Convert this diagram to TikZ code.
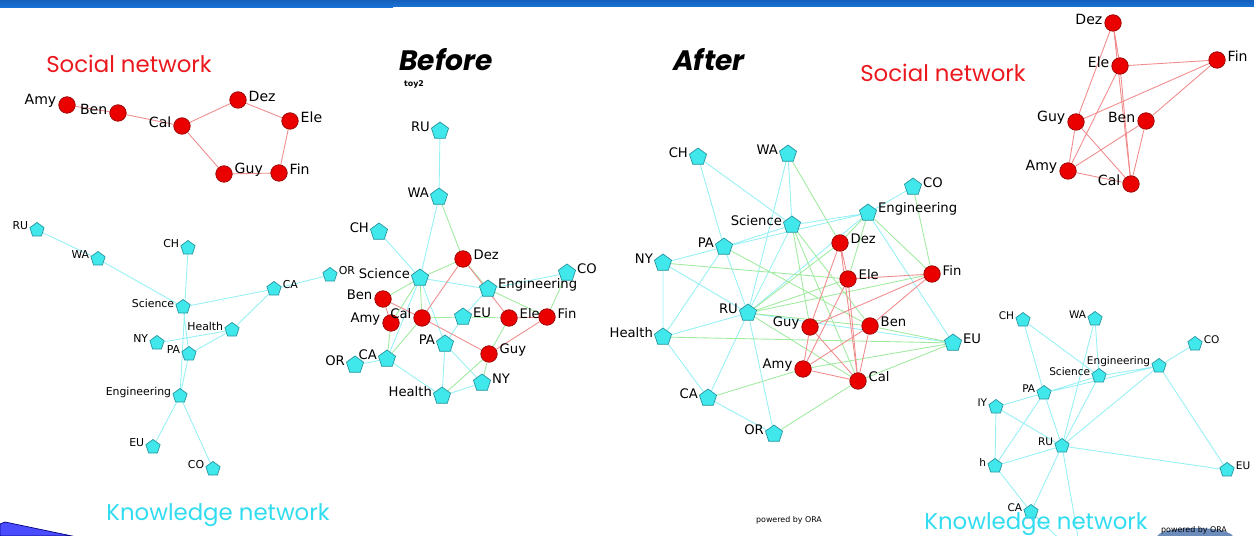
\documentclass[tikz,border=0pt]{standalone}
\usepackage{fontspec}
\setmainfont{DejaVu Sans}
\newfontfamily\headfont{Poppins}
\usetikzlibrary{shapes.geometric,backgrounds}
\definecolor{socred}{RGB}{235,0,0}
\definecolor{socrim}{RGB}{150,0,0}
\definecolor{knfill}{RGB}{64,232,235}
\definecolor{knrim}{RGB}{40,150,160}
\definecolor{socline}{RGB}{240,140,140}
\definecolor{knline}{RGB}{150,240,245}
\definecolor{mixline}{RGB}{160,235,160}
\definecolor{headred}{RGB}{235,25,30}
\definecolor{headcyan}{RGB}{50,220,240}
\definecolor{barblue}{RGB}{25,115,215}
\definecolor{bardark}{RGB}{20,95,190}
\definecolor{steel}{RGB}{70,110,170}
\tikzset{
	soc/.style={circle, draw=socrim, fill=socred, inner sep=0pt, minimum size=0.33cm},
	kn/.style={regular polygon, regular polygon sides=5, draw=knrim, fill=knfill, inner sep=0pt, minimum size=0.36cm},
	kns/.style={kn, minimum size=0.3cm},
	lbl/.style={font=\fontsize{7.5}{8}\selectfont},
	tagl/.style={label={[lbl,inner sep=1pt,yshift=0.08cm]left:#1}},
	tagr/.style={label={[lbl,inner sep=1pt,yshift=0.08cm]right:#1}},
	sline/.style={socline, line width=0.5pt},
	kline/.style={knline, line width=0.5pt},
	mline/.style={mixline, line width=0.5pt},
	headline/.style={font=\headfont\fontsize{13}{14}\selectfont, inner sep=0pt},
	bighead/.style={font=\headfont\bfseries\itshape\fontsize{16}{16}\selectfont, inner sep=0pt},
}

\begin{document}
\begin{tikzpicture}[x=0.02cm, y=-0.02cm]
			%%%%% FRAME %%%%%
			\useasboundingbox (0, 0) rectangle (1254, 536);
			\fill[top color=bardark, bottom color=barblue] (0, 0) rectangle (393, 8);
			\fill[top color=bardark, bottom color=barblue] (393, 0) rectangle (1254, 7);
			\draw[fill=blue!70!white, draw=blue!50!black] (0, 524) -- (5, 522) -- (72, 536) -- (0, 536) -- cycle;
			\fill[steel, opacity=0.8] (1195, 537) ellipse (38 and 9);
			
			%%%%% SOCIAL NETWORK, LEFT %%%%%
			\node[headline, text=headred] (soctitle1) at (129, 64) {Social network};
			\begin{scope}[lbl/.style={font=\fontsize{8}{9}\selectfont}]
			\node[soc, tagl=Amy] (samy) at (67, 105) {};
			\node[soc, tagl=Ben] (sben) at (118, 113) {};
			\node[soc, tagl=Cal] (scal) at (182, 126) {};
			\node[soc, tagr=Dez] (sdez) at (238, 100) {};
			\node[soc, tagr=Ele] (sele) at (290, 121) {};
			\node[soc, tagr=Guy] (sguy) at (224, 174) {};
			\node[soc, tagr=Fin] (sfin) at (279, 173) {};
			\end{scope}
			\begin{pgfonlayer}{background}
			\draw[sline] (samy) -- (sben) -- (scal) -- (sdez) -- (sele) -- (sfin) -- (sguy) -- (scal);
			\end{pgfonlayer}
			
			%%%%% KNOWLEDGE NETWORK, LEFT %%%%%
			\node[headline, text=headcyan] (kntitle1) at (218, 515) {Knowledge network};
			\begin{scope}[lbl/.style={font=\fontsize{6.2}{7}\selectfont}]
			\node[kns, tagl=RU] (kru) at (37, 230) {};
			\node[kns, tagl=WA] (kwa) at (98, 259) {};
			\node[kns, tagl=CH] (kch) at (188, 248) {};
			\node[kns, tagl=Science] (ksci) at (183, 307) {};
			\node[kns, tagr=CA] (kca) at (274, 289) {};
			\node[kns, tagr=OR] (kor) at (330, 275) {};
			\node[kns, tagl=Health] (khea) at (232, 330) {};
			\node[kns, tagl=NY] (kny) at (157, 343) {};
			\node[kns, tagl=PA] (kpa) at (189, 354) {};
			\node[kns, tagl=Engineering] (keng) at (180, 396) {};
			\node[kns, tagl=EU] (keu) at (153, 447) {};
			\node[kns, tagl=CO] (kco) at (213, 469) {};
			\end{scope}
			\begin{pgfonlayer}{background}
			\draw[kline] (kru) -- (kwa) -- (ksci) -- (kca) -- (kor);
			\draw[kline] (kch) -- (keng) (ksci) -- (kpa) -- (keng) (kca) -- (khea) -- (kny);
			\draw[kline] (khea) -- (kpa) (keng) -- (keu) (keng) -- (kco);
			\end{pgfonlayer}
			
			%%%%% BEFORE %%%%%
			\node[bighead] (before) at (446, 60) {Before};
			\node[font=\bfseries\fontsize{4.5}{5}\selectfont, inner sep=0pt] (toy) at (414, 84) {toy2};
			\node[kn, tagl=RU] (bru) at (440, 131) {};
			\node[kn, tagl=WA] (bwa) at (439, 197) {};
			\node[kn, tagl=CH] (bch) at (379, 232) {};
			\node[kn, tagl=Science] (bsci) at (420, 278) {};
			\node[soc, tagr=Dez] (bdez) at (463, 259) {};
			\node[kn, tagr=Engineering] (beng) at (488, 289) {};
			\node[kn, tagr=CO] (bco) at (567, 273) {};
			\node[soc, tagl=Ben] (bben) at (383, 299) {};
			\node[soc, tagl=Amy] (bamy) at (391, 323) {};
			\node[soc, tagl=Cal] (bcal) at (422, 318) {};
			\node[kn, tagr=EU] (beu) at (463, 317) {};
			\node[soc, tagr=Ele] (bele) at (509, 318) {};
			\node[soc, tagr=Fin] (bfin) at (547, 317) {};
			\node[kn, tagl=PA] (bpa) at (445, 344) {};
			\node[soc, tagr=Guy] (bguy) at (489, 354) {};
			\node[kn, tagl=CA] (bca) at (387, 359) {};
			\node[kn, tagl=OR] (bor) at (355, 365) {};
			\node[kn, tagr=NY] (bny) at (482, 383) {};
			\node[kn, tagl=Health] (bhea) at (442, 396) {};
			\begin{pgfonlayer}{background}
			\draw[kline] (bru) -- (bwa) -- (bsci) (bch) -- (bsci) -- (beng) -- (bco);
			\draw[kline] (bsci) -- (bca) (bsci) -- (bpa) -- (bny) -- (bhea) -- (bpa);
			\draw[kline] (beng) -- (beu) -- (bpa) (bor) -- (bca) -- (bhea);
			\draw[mline] (bwa) -- (bdez) -- (bsci) -- (bben) (bsci) -- (bcal) (bsci) -- (bamy);
			\draw[mline] (bdez) -- (beng) -- (bfin) -- (bco) (bcal) -- (beu) -- (bele) -- (bguy);
			\draw[mline] (bguy) -- (bhea) (bguy) -- (bny) (bca) -- (bcal) (bamy) -- (bca);
			\draw[sline] (bdez) -- (bcal) -- (bben) -- (bamy) (bdez) -- (bele) -- (bfin) -- (bguy) -- (bcal);
			\end{pgfonlayer}
			
			%%%%% AFTER %%%%%
			\node[bighead] (after) at (709, 60) {After};
			\node[kn, tagl=CH] (ach) at (698, 157) {};
			\node[kn, tagl=WA] (awa) at (788, 154) {};
			\node[kn, tagr=CO] (aco) at (913, 187) {};
			\node[kn, tagr=Engineering] (aeng) at (868, 213) {};
			\node[kn, tagl=Science] (asci) at (792, 225) {};
			\node[soc, tagr=Dez] (adez) at (840, 243) {};
			\node[kn, tagl=PA] (apa) at (724, 247) {};
			\node[kn, tagl=NY] (any) at (663, 263) {};
			\node[soc, tagr=Ele] (aele) at (848, 279) {};
			\node[soc, tagr=Fin] (afin) at (932, 274) {};
			\node[kn, tagl=RU] (aru) at (748, 313) {};
			\node[soc, tagl=Guy] (aguy) at (810, 327) {};
			\node[soc, tagr=Ben] (aben) at (870, 326) {};
			\node[kn, tagl=Health] (ahea) at (663, 337) {};
			\node[kn, tagr=EU] (aeu) at (953, 343) {};
			\node[soc, tagl=Amy] (aamy) at (803, 369) {};
			\node[soc, tagr=Cal] (acal) at (858, 381) {};
			\node[kn, tagl=CA] (aca) at (708, 398) {};
			\node[kn, tagl=OR] (aor) at (774, 434) {};
			\node[font=\fontsize{4.5}{5}\selectfont] (ora1) at (789, 520) {powered by ORA};
			\begin{pgfonlayer}{background}
			\draw[kline] (ach) -- (asci) -- (aeng) -- (aco) (ach) -- (apa) -- (aru) (awa) -- (asci) -- (apa) -- (aeng);
			\draw[kline] (awa) -- (aru) -- (asci) (aeng) -- (aeu) (aeng) -- (aru) (any) -- (apa) -- (ahea) -- (any) -- (aru);
			\draw[kline] (ahea) -- (aru) -- (aca) -- (ahea) (aru) -- (aor) -- (aca) (aru) -- (aeu);
			\draw[mline] (awa) -- (adez) -- (aeng) -- (aele) (aeng) -- (afin) -- (aco) (asci) -- (aguy) (asci) -- (acal) (asci) -- (aben);
			\draw[mline] (any) -- (aele) (apa) -- (aben) (ahea) -- (aeu) (aru) -- (adez) (aru) -- (aele) (aru) -- (afin);
			\draw[mline] (aru) -- (aben) (aru) -- (acal) (aca) -- (aamy) -- (aeu) -- (acal) -- (aor) (aben) -- (aeu);
			\draw[sline] (adez) -- (aele) -- (afin) -- (aguy) -- (aamy) -- (acal) -- (adez) -- (aguy);
			\draw[sline] (aele) -- (aamy) -- (aben) -- (acal) -- (aele) (afin) -- (aben) (aguy) -- (acal);
			\end{pgfonlayer}
			
			%%%%% SOCIAL NETWORK, RIGHT %%%%%
			\node[headline, text=headred] (soctitle2) at (943, 73) {Social network};
			\begin{scope}[lbl/.style={font=\fontsize{8}{9}\selectfont}]
			\node[soc, tagl=Dez] (tdez) at (1113, 23) {};
			\node[soc, tagl=Ele] (tele) at (1120, 66) {};
			\node[soc, tagr=Fin] (tfin) at (1217, 60) {};
			\node[soc, tagl=Guy] (tguy) at (1076, 122) {};
			\node[soc, tagl=Ben] (tben) at (1146, 121) {};
			\node[soc, tagl=Amy] (tamy) at (1068, 171) {};
			\node[soc, tagl=Cal] (tcal) at (1131, 184) {};
			\end{scope}
			\begin{pgfonlayer}{background}
			\draw[sline] (tdez) -- (tele) -- (tfin) -- (tguy) -- (tamy) -- (tcal) -- (tdez) -- (tguy);
			\draw[sline] (tele) -- (tamy) -- (tben) -- (tcal) -- (tele) (tfin) -- (tben) (tguy) -- (tcal);
			\end{pgfonlayer}
			
			%%%%% KNOWLEDGE NETWORK, RIGHT %%%%%
			\begin{scope}[lbl/.style={font=\fontsize{6}{7}\selectfont}]
			\node[kns, tagl=CH] (rch) at (1023, 320) {};
			\node[kns, tagl=WA] (rwa) at (1095, 319) {};
			\node[kns, tagr=CO] (rco) at (1195, 344) {};
			\node[kns, tagl=Engineering] (reng) at (1159, 366) {};
			\node[kns, tagl=Science] (rsci) at (1099, 376) {};
			\node[kns, tagl=PA] (rpa) at (1044, 393) {};
			\node[kns, tagl=IY] (rny) at (996, 407) {};
			\node[kns, tagl=RU] (rru) at (1062, 446) {};
			\node[kns, tagl=h] (rhea) at (995, 466) {};
			\node[kns, tagr=EU] (reu) at (1227, 470) {};
			\node[kns, tagl=CA] (rca) at (1031, 512) {};
			\end{scope}
			\coordinate (ror) at (1082, 560);
			\begin{pgfonlayer}{background}
			\draw[kline] (rch) -- (rsci) -- (reng) -- (rco) (rch) -- (rpa) -- (rru) (rwa) -- (rsci) -- (rpa) -- (reng);
			\draw[kline] (rwa) -- (rru) -- (rsci) (reng) -- (reu) (reng) -- (rru) (rny) -- (rpa) -- (rhea) -- (rny) -- (rru);
			\draw[kline] (rhea) -- (rru) -- (rca) -- (rhea) (rru) -- (ror) -- (rca) (rru) -- (reu);
			\end{pgfonlayer}
			\node[headline, text=headcyan] (kntitle2) at (1036, 524) {Knowledge network};
			\node[font=\fontsize{4.5}{5}\selectfont] (ora2) at (1194, 530) {powered by ORA};
			%%%%% END %%%%%
\end{tikzpicture}
\end{document}
